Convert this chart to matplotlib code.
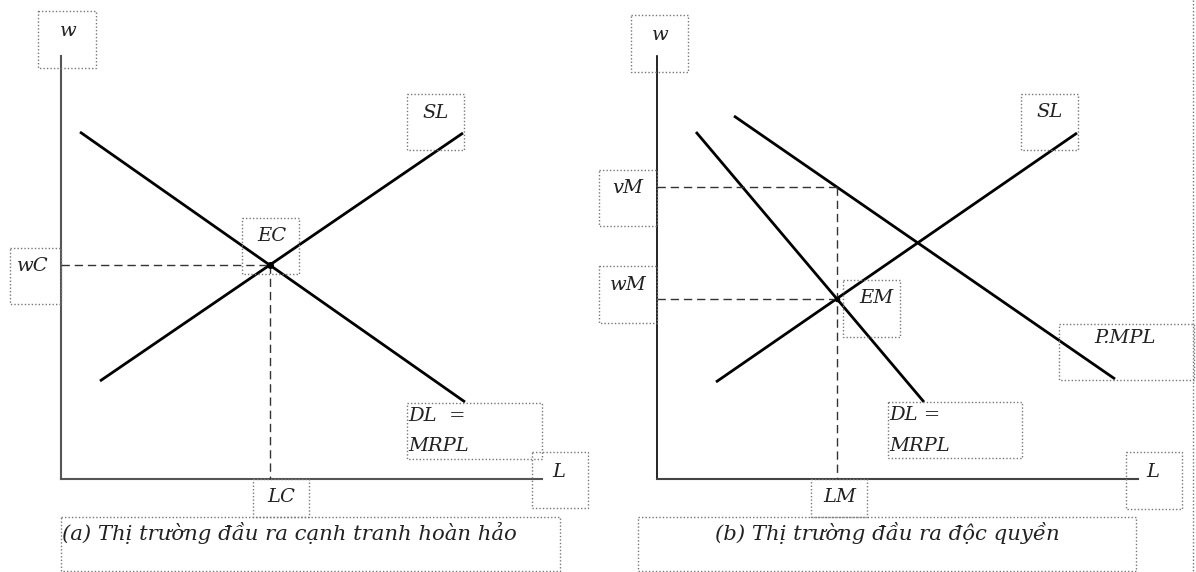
import numpy as np
import matplotlib
matplotlib.use("Agg")
import matplotlib.pyplot as plt
from matplotlib.patches import Rectangle

### data: curve end points, L and w in diagram units (origin = axis corner)
# (a) perfect competition in the output market
a_dl_L = [1.9, 40.4]
a_dl_w = [34.7, 7.7]
a_sl_L = [3.9, 40.2]
a_sl_w = [9.8, 34.6]
a_axis_L = 48.1
a_axis_w = 42.3

# (b) monopoly in the output market
b_pmpl_L = [7.7, 45.8]
b_pmpl_w = [36.3, 10.0]
b_mrpl_L = [3.9, 26.7]
b_mrpl_w = [34.7, 7.7]
b_sl_L = [5.9, 42.0]
b_sl_w = [9.7, 34.6]
b_axis_L = 48.1
b_axis_w = 42.3

caption_a = "(a) Thị trường đầu ra cạnh tranh hoàn hảo"
caption_b = "(b) Thị trường đầu ra độc quyền"


def cross(L1, w1, L2, w2):
    # intersection of two straight lines given by two points each
    m1 = (w1[1] - w1[0]) / (L1[1] - L1[0])
    m2 = (w2[1] - w2[0]) / (L2[1] - L2[0])
    x = (w2[0] - w1[0] + m1 * L1[0] - m2 * L2[0]) / (m1 - m2)
    return x, w1[0] + m1 * (x - L1[0])


def at(L, w, x):
    m = (w[1] - w[0]) / (L[1] - L[0])
    return w[0] + m * (x - L[0])


W, H = 1196, 572
fig = plt.figure(figsize=(W / 100, H / 100), dpi=100)
fig.patch.set_facecolor("white")

ax1 = fig.add_axes([0, 0, 598 / W, 1])
ax2 = fig.add_axes([598 / W, 0, 598 / W, 1])
ax1.set_xlim(-6.1, 53.7)
ax2.set_xlim(-5.9, 53.9)
for ax in (ax1, ax2):
    ax.set_ylim(-9.3, 47.9)
    ax.axis("off")

curve = dict(color="black", lw=2.0, solid_capstyle="butt")
dash = dict(color="#333333", lw=1.0, dashes=(6, 3.5))

# panel a
ax1.plot([0, 0], [0, a_axis_w], color="#555555", lw=1.5)
ax1.plot([0, a_axis_L], [0, 0], color="#555555", lw=1.5)
ax1.plot(a_dl_L, a_dl_w, **curve)
ax1.plot(a_sl_L, a_sl_w, **curve)
LC, wC = cross(a_dl_L, a_dl_w, a_sl_L, a_sl_w)
ax1.plot([0, LC], [wC, wC], **dash)
ax1.plot([LC, LC], [wC, 0], **dash)
ax1.plot(LC, wC, "o", color="black", ms=4)

# panel b
ax2.plot([0, 0], [0, b_axis_w], color="black", lw=1.2)
ax2.plot([0, b_axis_L], [0, 0], color="#444444", lw=1.5)
ax2.plot(b_pmpl_L, b_pmpl_w, **curve)
ax2.plot(b_mrpl_L, b_mrpl_w, **curve)
ax2.plot(b_sl_L, b_sl_w, **curve)
LM, wM = cross(b_mrpl_L, b_mrpl_w, b_sl_L, b_sl_w)
vM = at(b_pmpl_L, b_pmpl_w, LM)
ax2.plot([0, LM], [wM, wM], **dash)
ax2.plot([0, LM], [vM, vM], **dash)
ax2.plot([LM, LM], [vM, 0], **dash)
ax2.plot(LM, wM, "o", color="black", ms=3)

# overlay in pixel coords for the text boxes
ov = fig.add_axes([0, 0, 1, 1], facecolor="none")
ov.set_xlim(0, W)
ov.set_ylim(H, 0)
ov.axis("off")

font = dict(family="DejaVu Serif", style="italic", size=14, color="#222222")


def box(x0, y0, x1, y1):
    ov.add_patch(Rectangle((x0, y0), x1 - x0, y1 - y0, fill=False,
                           ec="#777777", lw=1.0, ls=(0, (1, 1.5))))


def label(x, y, s, ha="center", **kw):
    ov.text(x, y, s, ha=ha, va="center", **{**font, **kw})


# boxes + labels, panel a
box(38, 11, 96, 68);    label(68, 31, "w")
box(407, 94, 464, 150); label(436, 113, "SL")
box(242, 218, 299, 274); label(272, 236, "EC")
box(10, 248, 61, 304);  label(33, 266, "wC")
box(407, 403, 542, 459)
label(408, 416, "DL  =", ha="left"); label(408, 446, "MRPL", ha="left")
box(532, 452, 588, 508); label(559, 472, "L")
box(253, 479, 309, 517); label(281, 497, "LC")
box(61, 517, 560, 571)
label(62, 533, caption_a, ha="left", size=15.3)

# boxes + labels, panel b
box(631, 15, 688, 72);   label(660, 35, "w")
box(1021, 94, 1078, 150); label(1050, 112, "SL")
box(599, 170, 657, 226);  label(628, 188, "vM")
box(599, 266, 657, 323);  label(628, 285, "wM")
box(843, 280, 900, 337);  label(876, 298, "EM")
box(1059, 324, 1194, 380); label(1125, 338, "P.MPL")
box(888, 402, 1022, 458)
label(889, 415, "DL =", ha="left"); label(889, 446, "MRPL", ha="left")
box(1126, 452, 1182, 509); label(1153, 472, "L")
box(811, 479, 867, 517);   label(840, 497, "LM")
box(638, 517, 1136, 571)
label(887, 533, caption_b, size=15.3)

ov.plot([1193, 1193], [0, H], color="#777777", lw=1.0, ls=(0, (1, 1.5)))

fig.savefig("out.png", dpi=100)
